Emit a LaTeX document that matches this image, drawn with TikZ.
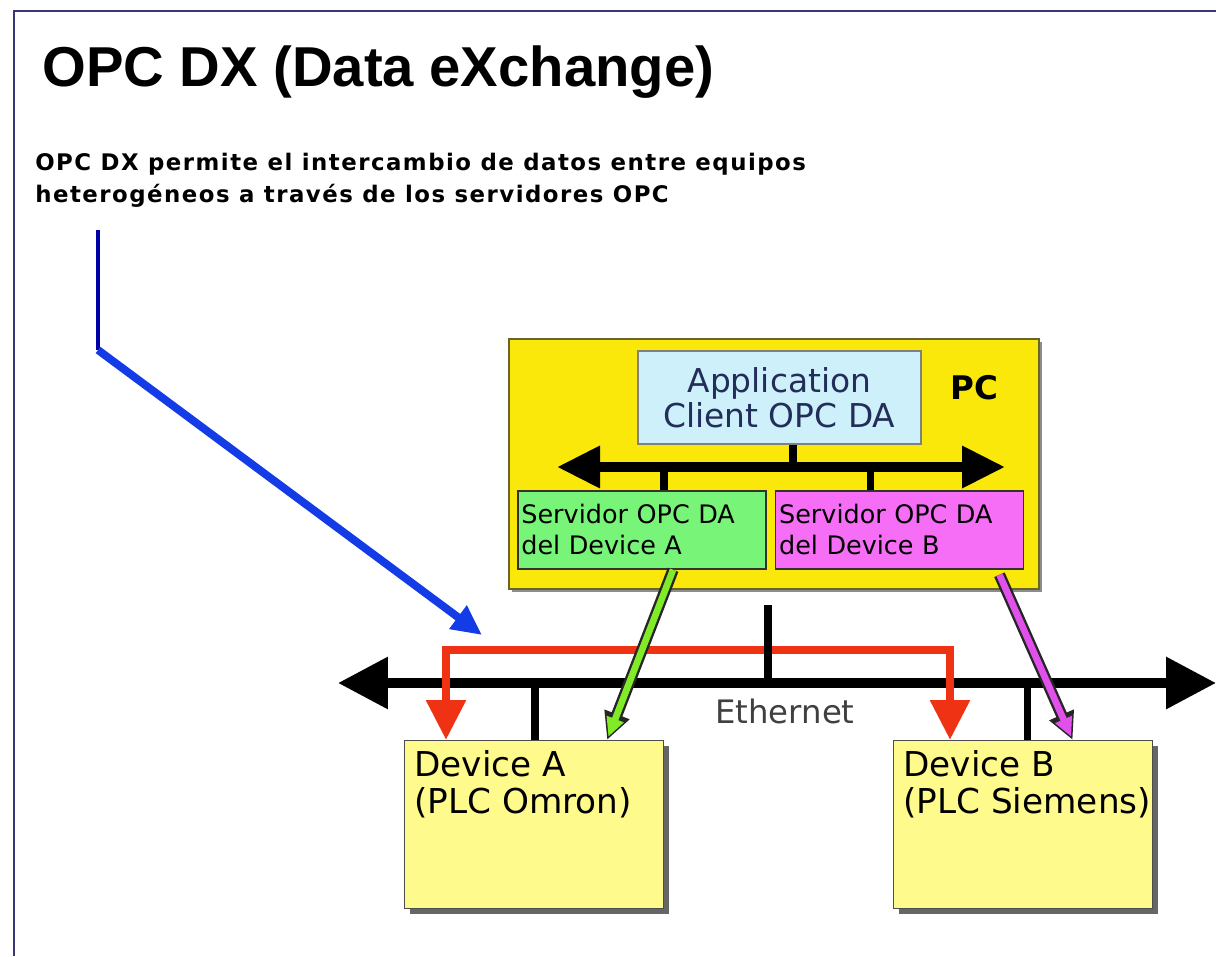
\documentclass[tikz,border=0pt]{standalone}
\usepackage{fontspec}
\setmainfont{DejaVu Sans}
\newfontfamily\titlefont{Liberation Sans}
\newfontfamily\descfont[LetterSpace=6.5]{DejaVu Sans}
\usepackage{tikz}
\usetikzlibrary{arrows.meta,positioning,shadows,calc}
\usepackage{xcolor}
\definecolor{dxframe}{RGB}{55,55,115}
\definecolor{dxyellow}{RGB}{250,232,10}
\definecolor{dxpcborder}{RGB}{105,100,40}
\definecolor{dxlightblue}{RGB}{205,240,250}
\definecolor{dxnavy}{RGB}{35,45,90}
\definecolor{dxgreen}{RGB}{120,245,120}
\definecolor{dxpink}{RGB}{245,110,245}
\definecolor{dxdevice}{RGB}{255,250,140}
\definecolor{dxred}{RGB}{240,50,20}
\definecolor{dxblue}{RGB}{20,60,230}
\definecolor{dxdarkblue}{RGB}{0,0,170}
\definecolor{dxlime}{RGB}{130,235,40}
\definecolor{dxmagenta}{RGB}{225,80,235}
\tikzstyle{pcbox} = [rectangle, minimum width=10.6cm, minimum height=5cm, draw=dxpcborder, fill=dxyellow, line width=1pt, drop shadow={shadow xshift=2pt, shadow yshift=-2pt, fill=black!45, opacity=1}]
\tikzstyle{appbox} = [rectangle, minimum width=5.66cm, minimum height=1.86cm, draw=black!50, fill=dxlightblue, line width=1pt, align=center, text=dxnavy, font=\fontsize{18.7}{20}\selectfont]
\tikzstyle{srvbox} = [rectangle, minimum height=1.56cm, text width=4.96cm-4pt, inner xsep=2pt, align=left, draw=black!80, line width=1pt, font=\fontsize{14.5}{17.6}\selectfont]
\tikzstyle{devbox} = [rectangle, minimum width=5.18cm, minimum height=3.36cm, draw=black!70, fill=dxdevice, line width=0.8pt, drop shadow={shadow xshift=3pt, shadow yshift=-3pt, fill=black!60, opacity=1}]
\tikzstyle{devtext} = [anchor=north west, inner sep=0.2cm, align=left, font=\fontsize{19.5}{21}\selectfont]
\tikzstyle{bus} = [line width=5.5pt, {Triangle[length=1cm, width=1cm]}-{Triangle[length=1cm, width=1cm]}]
\tikzstyle{stem} = [line width=4pt]
\tikzstyle{redflow} = [line width=5pt, color=dxred, {Triangle[length=0.8cm, width=0.76cm]}-{Triangle[length=0.8cm, width=0.76cm]}]
\tikzstyle{blueflow} = [line width=4.5pt, color=dxblue, -{Triangle[length=0.6cm, width=0.55cm]}]
\tikzstyle{greenflow} = [line width=6.5pt, color=black!85, -{Triangle[length=0.55cm, width=0.5cm]}]

\begin{document}
\begin{tikzpicture}[x=0.02cm, y=-0.02cm]
    \useasboundingbox (0,0) rectangle (1216,956);
    \draw[dxframe, line width=1.7pt] (14,956) -- (14,11) -- (1216,11);

    \node[anchor=base west, inner sep=0, font=\titlefont\bfseries\fontsize{32}{36}\selectfont] (title) at (42,87) {OPC DX (Data eXchange)};
    \node[anchor=north west, inner sep=0, align=left, font=\descfont\bfseries\fontsize{13}{18}\selectfont] (desc) at (35,153)
        {OPC DX permite el intercambio de datos entre equipos\\heterogéneos a través de los servidores OPC};

    % PC with client and servers
    \node[pcbox, anchor=north west] (pc) at (508,338) {};
    \node[font=\bfseries\fontsize{18.5}{22}\selectfont] (pclabel) at (974,388) {PC};
    \node[appbox, anchor=north west] (app) at (637,350) {Application\\Client OPC DA};
    \node[srvbox, fill=dxgreen, anchor=north west] (srvA) at (517,490) {Servidor OPC DA\\del Device A};
    \node[srvbox, fill=dxpink, right=0.16cm of srvA] (srvB) {Servidor OPC DA\\del Device B};

    \coordinate (busL) at (557,467);
    \coordinate (busR) at (1005,467);
    \coordinate (jApp) at (793,467);
    \coordinate (jA) at (664,467);
    \coordinate (jB) at (870,467);
    \draw[stem] (jApp) -- (jApp |- app.south);
    \draw[stem] (jA) -- (jA |- srvA.north);
    \draw[stem] (jB) -- (jB |- srvB.north);
    \draw[bus, {Triangle[length=0.86cm, width=0.8cm]}-{Triangle[length=0.86cm, width=0.8cm]}] (busL) -- (busR);

    % devices
    \node[devbox, anchor=north west] (devA) at (404,740) {};
    \node[devbox, anchor=north west] (devB) at (893,740) {};
    \node[devtext] (devAtext) at (devA.north west) {Device A\\(PLC Omron)};
    \node[devtext] (devBtext) at (devB.north west) {Device B\\(PLC Siemens)};

    % Ethernet
    \coordinate (ethL) at (338,683);
    \coordinate (ethR) at (1216,683);
    \coordinate (jPC) at (768,683);
    \coordinate (jDA) at (535,683);
    \coordinate (jDB) at (1027,683);
    \draw[stem] (jDA) -- (jDA |- devA.north);
    \draw[stem] (jDB) -- (jDB |- devB.north);
    \draw[bus] (ethL) -- (ethR);
    \node[text=black!75, font=\fontsize{18.4}{22}\selectfont] (ethtext) at (785,711) {Ethernet};

    % data exchange
    \coordinate (rA) at (446,650);
    \coordinate (rB) at (950,650);
    \draw[redflow] (rA |- devA.north) -- (rA) -- (rB) -- (rB |- devB.north);
    \draw[stem] (jPC) -- ([yshift=-0.3cm]jPC |- pc.south);

    \coordinate (noteTop) at (98,230);
    \coordinate (noteBend) at (98,350);
    \coordinate (noteTip) at (482,635);
    \draw[dxdarkblue, line width=2.3pt] (noteTop) -- (noteBend);
    \draw[blueflow] (noteBend) -- (noteTip);

    \draw[greenflow, postaction={draw=dxlime, line width=3.8pt, -{Triangle[length=0.38cm, width=0.34cm]}, shorten >=2pt}]
        ($(srvA.south west)!0.625!(srvA.south east)$) -- ($(devA.north west)!0.78!(devA.north east)$);
    \draw[greenflow, postaction={draw=dxmagenta, line width=3.8pt, -{Triangle[length=0.38cm, width=0.34cm]}, shorten >=2pt}]
        ($(srvB.south west)!0.9!(srvB.south east)+(0,-0.1cm)$) -- ($(devB.north west)!0.69!(devB.north east)$);
\end{tikzpicture}
\end{document}
